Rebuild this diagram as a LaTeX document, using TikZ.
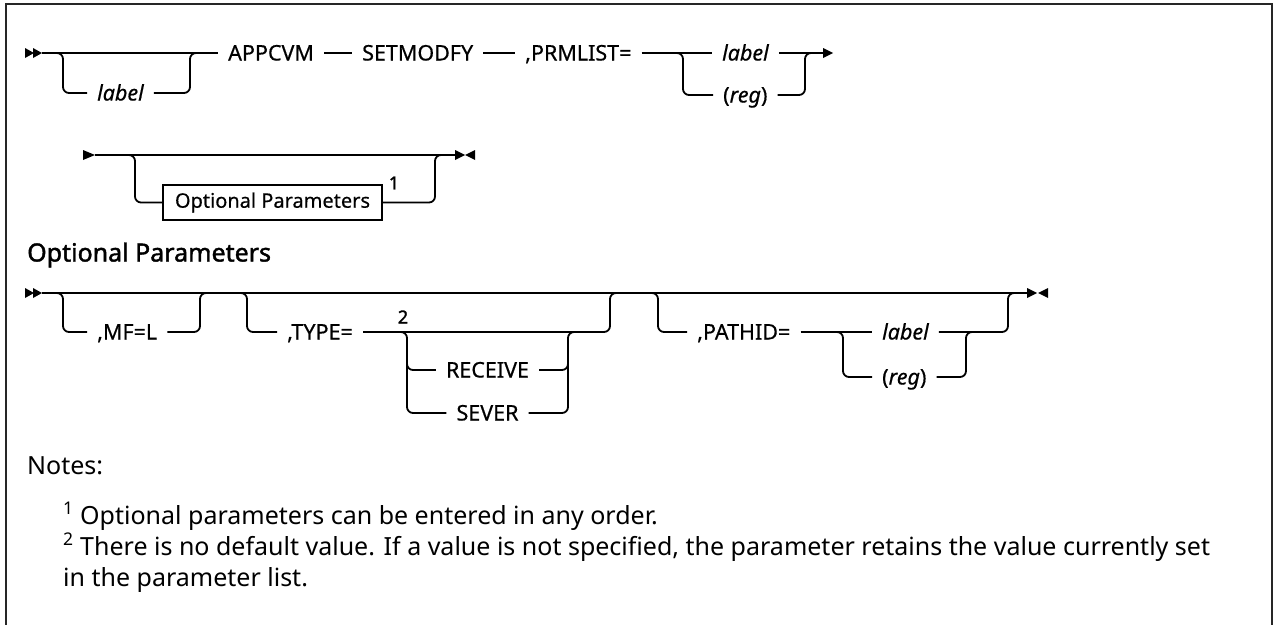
\documentclass[tikz,border=0pt]{standalone}
\usepackage{fontspec}
\setmainfont{Noto Sans}
\newfontfamily\medfont[FakeBold=0.5]{Noto Sans}
\newfontfamily\bldfont[FakeBold=1.6]{Noto Sans}
\begin{document}
\begin{tikzpicture}[x=1pt,y=-1pt,
  rail/.style={line width=1.8pt},
  rr/.style={rail, rounded corners=6pt},
  kw/.style={inner xsep=10pt, inner ysep=0pt, text height=15pt, text depth=0pt, anchor=west, font=\fontsize{21.5}{25}\medfont},
  kwc/.style={kw, anchor=center},
  kwi/.style={kw, font=\fontsize{21.5}{25}\medfont\itshape},
  boxnode/.style={draw, line width=1.4pt, minimum width=219pt, minimum height=35pt, inner sep=0pt, font=\fontsize{20}{24}\medfont},
  sup/.style={inner sep=0pt, font=\fontsize{18}{20}\bldfont},
  head/.style={anchor=west, inner sep=0pt, font=\fontsize{25}{30}\bldfont},
  note/.style={anchor=base west, inner sep=0pt, font=\fontsize{25}{30}\selectfont},
  tip/.style={fill=black}
]
\useasboundingbox (0,0) rectangle (1274,624);
% frame
\draw[line width=2.6pt, draw=black!85] (6,640) -- (6,4) -- (1272,4) -- (1272,640);

% ---------------- Row 1 ----------------
\fill[tip] (25,48) -- (34,53) -- (25,58) -- cycle;
\fill[tip] (33,48) -- (42,53) -- (33,58) -- cycle;
\coordinate (s1) at (42,53);
\node[kw] (appcvm) at (218,53) {APPCVM};
\node[kw] (setm) at (352,53) {SETMODFY};
\node[kw] (prm) at (515,53) {,PRMLIST=};
\node[kwi] (lab1) at (87,93) {label};
\node[kwi] (lab2) at (712,53) {label};
\node[kw] (reg1) at (713,95) {(\textit{reg})};
\coordinate (e1) at (823,53);

\draw[rail] (s1) -- (appcvm.west);
\draw[rr] (55,53) -- (63,53) -- (63,93) -- (lab1.west);
\draw[rr] (lab1.east) -- (190,93) -- (190,53) -- (198,53);
\draw[rail] (appcvm.east) -- (setm.west);
\draw[rail] (setm.east) -- (prm.west);
\draw[rail] (prm.east) -- (lab2.west);
\draw[rr] (676,53) -- (683,53) -- (683,95) -- (reg1.west);
\draw[rail] (lab2.east) -- (e1);
\draw[rr] (reg1.east) -- (805,95) -- (805,53) -- (812,53);
\fill[tip] (823,48) -- (833,53) -- (823,58) -- cycle;

% ---------------- Row 2 ----------------
\fill[tip] (83,150) -- (95,155) -- (83,160) -- cycle;
\coordinate (s2) at (95,155);
\coordinate (e2) at (455,155);
\node[boxnode] (opt) at (272.5,202.5) {Optional Parameters};
\node[sup] (n1) at (394,183) {1};
\draw[rail] (s2) -- (e2);
\draw[rr] (128,155) -- (135,155) -- (135,202.5) -- (opt.west);
\draw[rr] (opt.east) -- (435,202.5) -- (435,155) -- (442,155);
\fill[tip] (455,150) -- (465,155) -- (455,160) -- cycle;
\fill[tip] (475,150) -- (465,155) -- (475,160) -- cycle;

% heading
\node[head] (hd) at (27,255) {Optional Parameters};

% ---------------- Row 3 ----------------
\fill[tip] (25,288) -- (34,293) -- (25,298) -- cycle;
\fill[tip] (33,288) -- (42,293) -- (33,298) -- cycle;
\coordinate (s3) at (42,293);
\coordinate (e3) at (1027,293);
\draw[rail] (s3) -- (e3);
% MF
\node[kw] (mf) at (87,332) {,MF=L};
\draw[rr] (55,293) -- (63,293) -- (63,332) -- (mf.west);
\draw[rr] (mf.east) -- (200,332) -- (200,293) -- (207,293);
% TYPE
\node[kw] (type) at (277,332) {,TYPE=};
\node[sup] (n2) at (403,317) {2};
\node[kwc] (recv) at (487.5,370) {RECEIVE};
\node[kwc] (sever) at (487.5,413) {SEVER};
\draw[rr] (240,293) -- (247,293) -- (247,332) -- (type.west);
\draw[rr] (type.east) -- (610,332) -- (610,293) -- (617,293);
\draw[rr] (400,332) -- (407,332) -- (407,413) -- (sever.west);
\draw[rr] (407,360) -- (407,370) -- (recv.west);
\draw[rr] (recv.east) -- (568,370) -- (568,332) -- (575,332);
\draw[rr] (sever.east) -- (568,413) -- (568,360);
% PATHID
\node[kw] (pathid) at (687,332) {,PATHID=};
\node[kwi] (lab3) at (872,332) {label};
\node[kw] (reg3) at (872,377) {(\textit{reg})};
\draw[rr] (651,293) -- (658,293) -- (658,332) -- (pathid.west);
\draw[rail] (pathid.east) -- (lab3.west);
\draw[rr] (836,332) -- (843,332) -- (843,377) -- (reg3.west);
\draw[rr] (lab3.east) -- (1008,332) -- (1008,293) -- (1015,293);
\draw[rr] (reg3.east) -- (966,377) -- (966,332) -- (973,332);
\fill[tip] (1027,288) -- (1037,293) -- (1027,298) -- cycle;
\fill[tip] (1048,288) -- (1038,293) -- (1048,298) -- cycle;

% ---------------- Notes ----------------
\node[note] (notes) at (27,474) {Notes:};
\node[note] (nt1) at (63,524) {\textsuperscript{1} Optional parameters can be entered in any order.};
\node[note] (nt2) at (63,555) {\textsuperscript{2} There is no default value. If a value is not specified, the parameter retains the value currently set};
\node[note] (nt3) at (63,586) {in the parameter list.};
\end{tikzpicture}
\end{document}
